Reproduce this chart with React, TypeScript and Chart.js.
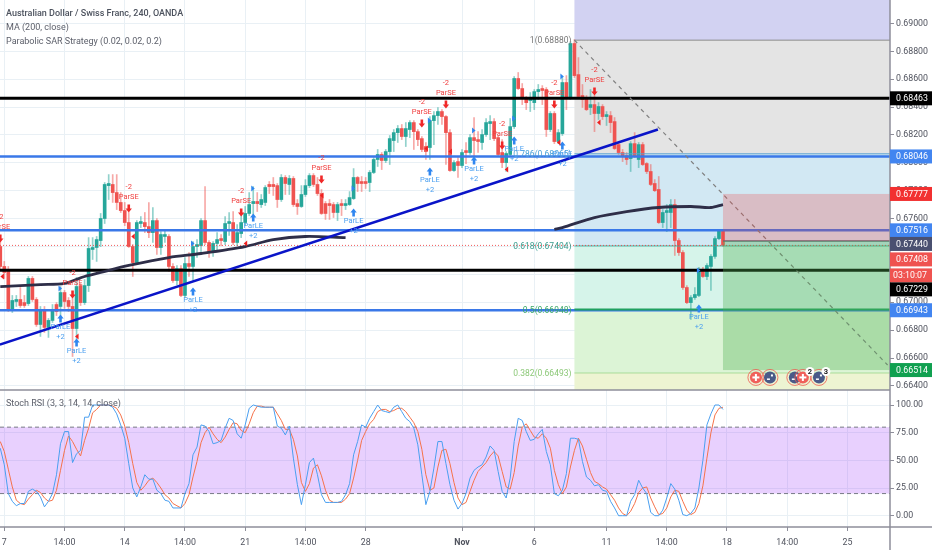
import React, { useEffect, useRef } from "react";
import { Chart, registerables } from "chart.js";

Chart.register(...registerables);

// Candles, in 1/100000 of the quote. First candle is bar -1; bar 0 is the "7" tick.
const firstBar = -1;
const opens = [67400,67257,67221,66941,67006,67020,66998,66991,67171,67020,66841,66948,66820,66870,66984,66970,67070,67013,66970,66812,67120,66998,67120,67379,67393,67443,67601,67837,67845,67787,67716,67658,67572,67400,67285,67565,67572,67543,67500,67586,67393,67472,67472,67257,67156,67242,67049,67278,67257,67400,67407,67586,67429,67357,67422,67457,67436,67565,67572,67429,67493,67572,67637,67708,67723,67701,67716,67845,67845,67837,67737,67895,67845,67888,67708,67687,67773,67837,67909,67845,67780,67708,67708,67701,67644,67708,67694,67701,67744,67895,67866,67866,67859,67931,68024,68060,68017,68081,68160,68217,68246,68189,68239,68289,68224,68174,68117,68110,68303,68339,68368,68332,68217,67945,68009,67981,68088,68074,68181,68167,68146,68203,68282,68296,68181,68074,68002,68060,68260,68605,68533,68468,68447,68432,68511,68533,68526,68239,68354,68153,68210,68576,68461,68856,68633,68483,68468,68397,68418,68354,68404,68332,68339,68296,68131,68074,68052,68031,68138,68024,68131,67995,67938,67852,67809,67572,67644,67644,67701,67443,67357,67106,66998,67034,67049,67235,67185,67257,67329,67457,67515];
const highs = [67450,67293,67257,67049,67049,67106,67049,67185,67185,67034,66970,66970,66884,66984,66998,67113,67085,67034,67056,67178,67135,67163,67464,67464,67472,67637,67859,67916,67916,67916,67787,67716,67644,67414,67586,67615,67644,67716,67680,67601,67507,67522,67486,67278,67264,67264,67321,67357,67436,67450,67601,67830,67443,67436,67500,67486,67615,67644,67651,67558,67651,67687,67787,67830,67787,67773,67837,67866,67895,67852,67916,67909,67909,67902,67737,67837,67880,67923,67923,67895,67809,67723,67737,67716,67716,67737,67737,67794,67959,67902,67902,67895,67945,68038,68096,68074,68096,68196,68239,68268,68275,68289,68303,68303,68239,68189,68146,68332,68368,68397,68382,68339,68239,68017,68038,68096,68146,68203,68325,68224,68239,68318,68339,68318,68196,68167,68081,68318,68619,68648,68569,68476,68504,68526,68562,68554,68540,68368,68368,68239,68612,68626,68870,68884,68755,68562,68483,68526,68483,68432,68418,68368,68368,68325,68146,68096,68074,68153,68217,68146,68146,68002,67988,67880,67902,67665,67701,67737,67737,67457,67371,67120,67049,67106,67250,67250,67278,67343,67472,67522,67522];
const lows = [67235,67171,66934,66927,66970,66963,66963,66977,67006,66827,66755,66784,66748,66855,66905,66905,66956,66934,66611,66712,66977,66984,67077,67307,67293,67400,67565,67737,67716,67665,67644,67550,67393,67185,67271,67536,67500,67464,67429,67343,67343,67429,67221,67142,67127,67041,67034,67185,67156,67321,67343,67414,67321,67329,67364,67407,67414,67479,67414,67407,67464,67550,67622,67615,67651,67680,67694,67780,67766,67680,67723,67773,67773,67687,67630,67680,67759,67823,67830,67766,67630,67594,67594,67608,67586,67622,67665,67694,67737,67794,67794,67816,67794,67923,67974,67952,68002,67988,68081,68146,68167,68117,68181,68096,68124,68081,68024,68024,68131,68275,68275,67988,67938,67938,67895,67966,67995,68060,68024,68074,68096,68189,68167,68160,68045,67966,67938,68045,68246,68526,68418,68382,68368,68382,68454,68418,68189,68224,68138,68138,68196,68382,68454,68612,68461,68397,68375,68346,68224,68311,68311,68268,68217,68096,68060,68009,67988,67938,68038,67966,67981,67923,67837,67794,67565,67536,67507,67536,67336,67336,67092,66991,66877,67020,67041,67178,67163,67085,67314,67450,67400];
const closes = [67257,67214,66948,67013,67020,66977,66977,67171,67020,66841,66948,66820,66870,66941,66934,67070,67006,66970,66812,67113,66998,67120,67386,67393,67450,67601,67845,67852,67787,67716,67658,67572,67400,67285,67572,67579,67543,67500,67586,67393,67486,67486,67257,67156,67242,67049,67278,67257,67400,67414,67586,67429,67357,67422,67450,67443,67565,67579,67429,67500,67572,67637,67701,67723,67708,67737,67823,67830,67830,67737,67895,67852,67888,67701,67687,67773,67837,67909,67845,67780,67637,67637,67694,67644,67701,67694,67708,67751,67895,67852,67852,67852,67931,68024,68060,68017,68081,68174,68217,68246,68189,68246,68289,68224,68167,68096,68081,68303,68339,68368,68332,68217,67945,68002,67981,68074,68074,68181,68160,68153,68203,68289,68296,68174,68060,68002,68067,68260,68605,68533,68468,68432,68461,68511,68526,68519,68239,68354,68153,68217,68576,68468,68856,68626,68476,68454,68382,68418,68354,68404,68332,68346,68289,68103,68074,68045,68024,68138,68045,68131,67988,67938,67845,67801,67572,67644,67658,67701,67443,67357,67106,66998,67034,67056,67235,67185,67264,67329,67457,67515,67408];
const POINT = 100000;

// Stoch RSI
const stochK = [61,46,20,13,9,11,11,22,24,22,17,8,13,20,37,65,76,76,48,56,59,89,89,100,100,100,100,100,98,92,82,70,47,25,17,26,37,33,33,23,20,14,13,7,7,7,20,29,55,62,82,81,76,65,66,68,79,88,86,74,70,82,97,100,99,98,98,98,98,81,79,73,81,52,28,10,28,48,52,37,19,12,12,12,12,13,19,29,55,67,82,80,88,94,100,95,94,93,98,100,94,88,85,79,64,37,10,22,43,67,67,47,28,14,6,11,20,34,41,44,46,53,63,59,40,22,16,34,67,88,86,76,68,69,74,78,58,46,20,18,23,38,70,70,69,49,35,32,27,28,23,22,13,7,0,0,0,13,19,32,25,20,3,0,0,5,16,29,24,14,1,0,2,7,25,50,82,92,100,100,96];
const stochD = [67,58,42,26,14,11,10,15,19,23,21,16,13,14,23,41,59,72,67,60,54,68,79,93,96,100,100,100,99,97,91,81,66,47,30,23,27,32,34,30,25,19,16,11,9,7,11,19,35,49,66,75,80,74,69,66,71,78,84,83,77,75,83,93,99,99,98,98,98,92,86,78,78,69,54,30,22,29,43,46,36,23,14,12,12,12,15,20,34,50,68,76,83,87,94,96,96,94,95,97,97,94,89,84,76,60,37,23,25,44,59,60,47,30,16,10,12,22,32,40,44,48,54,58,54,40,26,24,39,63,80,83,77,71,70,74,70,61,41,28,20,26,44,59,70,63,51,39,31,29,26,24,19,14,7,2,0,4,11,21,25,26,16,8,1,2,7,17,23,22,13,5,1,3,11,27,52,75,91,97,98];

// MA(200): sampled values, null where the reference shows no line
const maBars = [-1,9,15,20,24,31,41,49,60,67,75,85,111,137,139,147,155,163,171,176,179];
const maValues = [0.67113,0.67127,0.67135,0.67185,0.67214,0.67264,0.67321,0.6735,0.674,0.6745,0.67472,0.67464,null,0.67522,0.67536,0.67608,0.67651,0.6768,0.67687,0.6768,0.67701];

// Strategy signals
const parSEBars = [-1,17,31,59,79,104,110,124,137,147];
const parSEPrices = [0.67457,0.67056,0.67672,0.67644,0.6788,0.68282,0.68418,0.68124,0.68418,0.68511];
const parLEBars = [14,18,47,62,87,106,117,127,139,173];
const parLEPrices = [0.66884,0.66712,0.67077,0.67608,0.67644,0.67938,0.68017,0.6816,0.68124,0.66956];
const longFlagBars = [14,47,62,87,106,117,127,139,173];
const longFlagPrices = [0.67099,0.67422,0.67816,0.67816,0.68303,0.68232,0.68318,0.68619,0.67228];
const shortFlagBars = [-0.6,32,18,60,79,105,111,125,138,148];
const shortFlagPrices = [0.67185,0.67472,0.66755,0.67422,0.67766,0.68103,0.68081,0.67952,0.68146,0.68289];

// Drawn levels
const blackLevels = [0.68463, 0.67229];
const blueLevels = [0.68046, 0.67516, 0.66943];
const lastPrice = 0.67408;
const entryPrice = 0.6744;
const targetPrice = 0.66514;
const stopPrice = 0.67777;
const trendBars = [-1.1, 162.8];
const trendPrices = [0.66697, 0.68239];
const diagonalBars = [142, 220];
const diagonalPrices = [0.6888, 0.6655];

// Fibonacci retracement
const fibStartBar = 142;
const fibRatios = ["1", "0.786", "0.618", "0.5", "0.382"];
const fibPrices = [0.6888, 0.68065, 0.67404, 0.66948, 0.66493];
const fibLineColors = ["#8a8a8a", "#5aa0d0", "#40b0a0", "#20a060", "#a8dc98"];
const fibTextColors = ["#777777", "#4aa0d8", "#3a9e90", "#3aa868", "#8cc878"];
const fibBandColors = ["#d2d2f2", "#e4e4e4", "#d2e8f3", "#d6f4ea", "#dcf4d6", "#edf4d2"];
const positionStartBar = 179;

// Events row
const eventBars = [187.2, 190.7, 196.9, 198.9, 202.9];
const eventKinds = ["plus", "flag", "flag", "plus", "flag"];
const eventBadges = ["", "", "", "2", "3"];
const eventPrice = 0.66461;

// Axes
const priceTop = 0.69168;
const priceBottom = 0.66371;
const rsiTop = 113.55;
const rsiBottom = -10.2;
const rsiBandHigh = 80;
const rsiBandLow = 20;
const xTickBars = [0, 15, 30, 45, 60, 75, 90, 114, 132, 150, 165, 180, 195, 210];
const xTickLabels = ["7", "14:00", "14", "14:00", "21", "14:00", "28", "Nov", "6", "11", "14:00", "18", "14:00", "25"];
const xMin = -1.07;
const xMax = 220.6;

// Price tags on the right axis: [text, value, background, text colour, shift]
const priceTags: [string, number, string, string, number][] = [
  ["0.68463", 0.68463, "#000000", "#ffffff", 0],
  ["0.68046", 0.68046, "#4285f0", "#ffffff", 0],
  ["0.67777", 0.67777, "#f23030", "#ffffff", 0],
  ["0.67516", 0.67516, "#4285f0", "#ffffff", 0],
  ["0.67440", 0.6744, "#4a5070", "#ffffff", 3],
  ["0.67408", 0.67408, "#ef5350", "#ffffff", 14],
  ["03:10:07", 0.67408, "#ef5350", "#ffffff", 30],
  ["0.67229", 0.67229, "#000000", "#ffffff", 19],
  ["0.66943", 0.66943, "#4285f0", "#ffffff", 0],
  ["0.66514", 0.66514, "#10a050", "#ffffff", 0],
];

const FONT = "Roboto";
const TEXT = "#50535e";
const BULL = "#26a69a";
const BEAR = "#ef5350";

function level(value: number, color: string, width: number, order: number, dash: number[] = [], from = xMin) {
  return {
    type: "line",
    data: [{ x: from, y: value }, { x: xMax, y: value }],
    borderColor: color,
    borderWidth: width,
    borderDash: dash,
    pointRadius: 0,
    order,
    yAxisID: "y",
  };
}

function flush(s: any) {
  s.paddingTop = 0;
  s.paddingBottom = 0;
  s.paddingLeft = 0;
  s.paddingRight = 0;
}

const panes = {
  id: "panes",
  beforeDatasetsDraw(chart: any) {
    const { ctx, chartArea, scales } = chart;
    const { x, y, yRsi } = scales;
    const left = x.getPixelForValue(fibStartBar);
    const edges = [y.top, ...fibPrices.map((p) => y.getPixelForValue(p)), y.bottom];
    ctx.save();
    fibBandColors.forEach((c, i) => {
      ctx.fillStyle = c;
      ctx.fillRect(left, edges[i], chartArea.right - left, edges[i + 1] - edges[i]);
    });
    const bandTop = yRsi.getPixelForValue(rsiBandHigh);
    const bandBottom = yRsi.getPixelForValue(rsiBandLow);
    ctx.fillStyle = "rgba(150,40,250,0.22)";
    ctx.fillRect(chartArea.left, bandTop, chartArea.right - chartArea.left, bandBottom - bandTop);
    ctx.strokeStyle = "#787b86";
    ctx.lineWidth = 1;
    ctx.setLineDash([4, 3]);
    [bandTop, bandBottom].forEach((py) => {
      ctx.beginPath();
      ctx.moveTo(chartArea.left, py);
      ctx.lineTo(chartArea.right, py);
      ctx.stroke();
    });
    ctx.restore();
  },
  afterDatasetsDraw(chart: any) {
    const { ctx, chartArea, scales } = chart;
    const { x, y } = scales;
    const px = (b: number) => x.getPixelForValue(b);
    const py = (p: number) => y.getPixelForValue(p);
    ctx.save();
    // long position box
    const left = px(positionStartBar);
    ctx.fillStyle = "rgba(240,60,60,0.25)";
    ctx.fillRect(left, py(stopPrice), chartArea.right - left, py(entryPrice) - py(stopPrice));
    ctx.fillStyle = "rgba(76,175,80,0.35)";
    ctx.fillRect(left, py(entryPrice), chartArea.right - left, py(targetPrice) - py(entryPrice));

    // fib labels
    ctx.textAlign = "right";
    ctx.textBaseline = "middle";
    ctx.font = `8.5px ${FONT}`;
    fibRatios.forEach((r, i) => {
      ctx.fillStyle = fibTextColors[i];
      ctx.fillText(`${r}(${fibPrices[i].toFixed(5)})`, px(fibStartBar) - 3, py(fibPrices[i]) + 1);
    });

    // signals
    ctx.textAlign = "center";
    ctx.font = `7.5px ${FONT}`;
    parSEBars.forEach((b, i) => {
      const cx = px(b);
      const cy = py(parSEPrices[i]);
      ctx.fillStyle = "#f02828";
      ctx.beginPath();
      ctx.moveTo(cx - 1.3, cy - 4);
      ctx.lineTo(cx + 1.3, cy - 4);
      ctx.lineTo(cx + 1.3, cy);
      ctx.lineTo(cx + 3.2, cy);
      ctx.lineTo(cx, cy + 4);
      ctx.lineTo(cx - 3.2, cy);
      ctx.lineTo(cx - 1.3, cy);
      ctx.closePath();
      ctx.fill();
      ctx.fillStyle = "#f04040";
      ctx.fillText("ParSE", cx, cy - 11);
      ctx.fillText("-2", cx, cy - 21);
    });
    parLEBars.forEach((b, i) => {
      const cx = px(b);
      const cy = py(parLEPrices[i]);
      ctx.fillStyle = "#2f86f0";
      ctx.beginPath();
      ctx.moveTo(cx - 1.3, cy + 4);
      ctx.lineTo(cx + 1.3, cy + 4);
      ctx.lineTo(cx + 1.3, cy);
      ctx.lineTo(cx + 3.2, cy);
      ctx.lineTo(cx, cy - 4);
      ctx.lineTo(cx - 3.2, cy);
      ctx.lineTo(cx - 1.3, cy);
      ctx.closePath();
      ctx.fill();
      ctx.fillStyle = "#4a9ff0";
      ctx.fillText("ParLE", cx, cy + 9);
      ctx.fillText("+2", cx, cy + 19);
    });
    longFlagBars.forEach((b, i) => {
      const cx = px(b) - 1;
      const cy = py(longFlagPrices[i]);
      ctx.fillStyle = "#2f86f0";
      ctx.beginPath();
      ctx.moveTo(cx - 1, cy - 3);
      ctx.lineTo(cx + 2.5, cy);
      ctx.lineTo(cx - 1, cy + 3);
      ctx.closePath();
      ctx.fill();
    });
    shortFlagBars.forEach((b, i) => {
      const cx = px(b) + 1;
      const cy = py(shortFlagPrices[i]);
      ctx.fillStyle = "#f02020";
      ctx.beginPath();
      ctx.moveTo(cx + 1, cy - 3);
      ctx.lineTo(cx - 2.5, cy);
      ctx.lineTo(cx + 1, cy + 3);
      ctx.closePath();
      ctx.fill();
    });

    // events
    eventBars.forEach((b, i) => {
      const cx = px(b);
      const cy = py(eventPrice);
      ctx.strokeStyle = "rgba(240,90,80,0.8)";
      ctx.lineWidth = 1;
      ctx.beginPath();
      ctx.arc(cx, cy, 8, 0, Math.PI * 2);
      ctx.stroke();
      ctx.fillStyle = eventKinds[i] === "plus" ? "#f0605a" : "#4a5a88";
      ctx.beginPath();
      ctx.arc(cx, cy, 6, 0, Math.PI * 2);
      ctx.fill();
      ctx.fillStyle = "#ffffff";
      if (eventKinds[i] === "plus") {
        ctx.fillRect(cx - 3.5, cy - 1, 7, 2);
        ctx.fillRect(cx - 1, cy - 3.5, 2, 7);
      } else {
        ctx.fillRect(cx - 3, cy + 1, 3, 1.5);
        ctx.fillRect(cx + 1, cy - 3, 2, 2);
      }
    });
    eventBars.forEach((b, i) => {
      if (!eventBadges[i]) return;
      const cx = px(b) + 7;
      const cy = py(eventPrice) - 6;
      ctx.fillStyle = "#ffffff";
      ctx.beginPath();
      ctx.arc(cx, cy, 4.5, 0, Math.PI * 2);
      ctx.fill();
      ctx.fillStyle = "#222222";
      ctx.font = `bold 7.5px ${FONT}`;
      ctx.fillText(eventBadges[i], cx, cy + 0.5);
    });
    ctx.restore();
  },
  afterDraw(chart: any) {
    const { ctx, chartArea, scales } = chart;
    const { y, yRsi } = scales;
    ctx.save();
    // frames
    ctx.strokeStyle = "#8e8e9a";
    ctx.lineWidth = 1.5;
    ctx.beginPath();
    ctx.moveTo(chartArea.left, y.bottom);
    ctx.lineTo(chartArea.right, y.bottom);
    ctx.moveTo(chartArea.left, chartArea.bottom);
    ctx.lineTo(chart.width, chartArea.bottom);
    ctx.moveTo(chartArea.right, chartArea.top);
    ctx.lineTo(chartArea.right, chart.height);
    ctx.stroke();

    // price tags
    ctx.textAlign = "left";
    ctx.textBaseline = "middle";
    ctx.font = `8.8px ${FONT}`;
    priceTags.forEach(([text, value, bg, fg, shift]) => {
      const cy = y.getPixelForValue(value) + shift;
      ctx.fillStyle = bg;
      ctx.fillRect(chartArea.right, cy - 7, chart.width - chartArea.right, 14);
      ctx.fillStyle = fg;
      ctx.fillText(text, chartArea.right + (text.length > 7 ? 3 : 6), cy + 0.5);
    });

    // legends
    ctx.fillStyle = "#4c525e";
    ctx.font = `500 9px ${FONT}`;
    ctx.fillText("Australian Dollar / Swiss Franc, 240, OANDA", 6, 14);
    ctx.fillStyle = "#5d606b";
    ctx.font = `9px ${FONT}`;
    ctx.fillText("MA (200, close)", 6, 28);
    ctx.fillText("Parabolic SAR Strategy (0.02, 0.02, 0.2)", 6, 41.5);
    ctx.fillText("Stoch RSI (3, 3, 14, 14, close)", 6, yRsi.top + 14);
    ctx.restore();
  },
};

export default function App() {
  const ref = useRef<HTMLCanvasElement | null>(null);
  useEffect(() => {
    const bars = opens.map((_, i) => i + firstBar);
    const isUp = (i: number) => closes[i] >= opens[i];
    const chart = new Chart(ref.current as HTMLCanvasElement, {
      type: "bar",
      data: {
        datasets: [
          {
            label: "wick",
            data: bars.map((b, i) => ({ x: b, y: [lows[i] / POINT, highs[i] / POINT] })),
            backgroundColor: bars.map((_, i) => (isUp(i) ? "rgba(38,166,154,0.5)" : "rgba(239,83,80,0.5)")),
            barThickness: 1,
            grouped: false,
            order: 20,
            yAxisID: "y",
          },
          {
            label: "body",
            data: bars.map((b, i) => ({ x: b, y: [opens[i] / POINT, closes[i] / POINT] })),
            backgroundColor: bars.map((_, i) => (isUp(i) ? BULL : BEAR)),
            barThickness: 3,
            minBarLength: 1,
            grouped: false,
            order: 19,
            yAxisID: "y",
          },
          ...fibPrices.map((p, i) => level(p, fibLineColors[i], i === 3 ? 2 : 1, 17, [], fibStartBar)),
          ...blueLevels.map((p) => level(p, "#3a78e8", 2.5, 18)),
          ...blackLevels.map((p) => level(p, "#000000", 3, 15)),
          level(lastPrice, "rgba(240,60,60,0.85)", 1, 16, [1, 2]),
          level(entryPrice, "#5f6478", 1.5, 16, [], positionStartBar),
          {
            type: "line",
            label: "MA",
            data: maBars.map((b, i) => ({ x: b, y: maValues[i] })),
            borderColor: "#2e2e48",
            borderWidth: 2.8,
            pointRadius: 0,
            tension: 0.3,
            spanGaps: false,
            order: 14,
            yAxisID: "y",
          },
          {
            type: "line",
            label: "trend",
            data: trendBars.map((b, i) => ({ x: b, y: trendPrices[i] })),
            borderColor: "#0a14c8",
            borderWidth: 2.6,
            pointRadius: 0,
            order: 13,
            yAxisID: "y",
          },
          {
            type: "line",
            label: "diagonal",
            data: diagonalBars.map((b, i) => ({ x: b, y: diagonalPrices[i] })),
            borderColor: "#808080",
            borderWidth: 1.2,
            borderDash: [4, 4],
            pointRadius: 0,
            order: 12,
            yAxisID: "y",
          },
          {
            type: "line",
            label: "%D",
            data: bars.map((b, i) => ({ x: b, y: stochD[i] })),
            borderColor: "#f5724a",
            borderWidth: 1,
            pointRadius: 0,
            order: 3,
            yAxisID: "yRsi",
          },
          {
            type: "line",
            label: "%K",
            data: bars.map((b, i) => ({ x: b, y: stochK[i] })),
            borderColor: "#4a9ff0",
            borderWidth: 1,
            pointRadius: 0,
            order: 2,
            yAxisID: "yRsi",
          },
        ] as any,
      },
      options: {
        responsive: false,
        animation: false,
        devicePixelRatio: 1,
        layout: { padding: 0 },
        plugins: { legend: { display: false }, tooltip: { enabled: false } },
        events: [],
        scales: {
          x: {
            type: "linear",
            min: xMin,
            max: xMax,
            offset: false,
            grid: { offset: false, color: "#e9f0f5", tickLength: 4, tickColor: "#8e8e9a" },
            border: { display: false },
            afterBuildTicks: (s: any) => {
              s.ticks = xTickBars.map((value) => ({ value }));
            },
            afterFit: (s: any) => {
              s.height = 23;
              flush(s);
            },
            ticks: {
              autoSkip: false,
              maxRotation: 0,
              padding: 7,
              color: TEXT,
              font: (c: any) => ({
                family: FONT,
                size: 8.8,
                weight: c.tick && c.tick.value === 114 ? "bold" : "normal",
              }),
              callback: (v: any) => xTickLabels[xTickBars.indexOf(v)],
            },
          },
          y: {
            type: "linear",
            position: "right",
            stack: "panes",
            stackWeight: 390,
            min: priceBottom,
            max: priceTop,
            grid: { color: "#e9f0f5", tickLength: 4, tickColor: "#8e8e9a" },
            border: { display: false },
            afterFit: (s: any) => {
              s.width = 42;
              flush(s);
            },
            ticks: {
              stepSize: 0.002,
              includeBounds: false,
              autoSkip: false,
              padding: 2,
              color: TEXT,
              font: { family: FONT, size: 8.8 },
              callback: (v: any) => Number(v).toFixed(5),
            },
          },
          yRsi: {
            type: "linear",
            position: "right",
            stack: "panes",
            stackWeight: 137,
            min: rsiBottom,
            max: rsiTop,
            grid: { color: "#e9f0f5", tickLength: 4, tickColor: "#8e8e9a" },
            border: { display: false },
            afterFit: (s: any) => {
              s.width = 42;
              flush(s);
            },
            ticks: {
              stepSize: 25,
              includeBounds: false,
              autoSkip: false,
              padding: 2,
              color: TEXT,
              font: { family: FONT, size: 8.8 },
              callback: (v: any) => Number(v).toFixed(2),
            },
          },
        },
      } as any,
      plugins: [panes],
    } as any);
    return () => chart.destroy();
  }, []);
  return (
    <canvas
      ref={ref}
      width={932}
      height={550}
      style={{ position: "fixed", left: 0, top: 0, width: 932, height: 550, display: "block", background: "#ffffff" }}
    />
  );
}
